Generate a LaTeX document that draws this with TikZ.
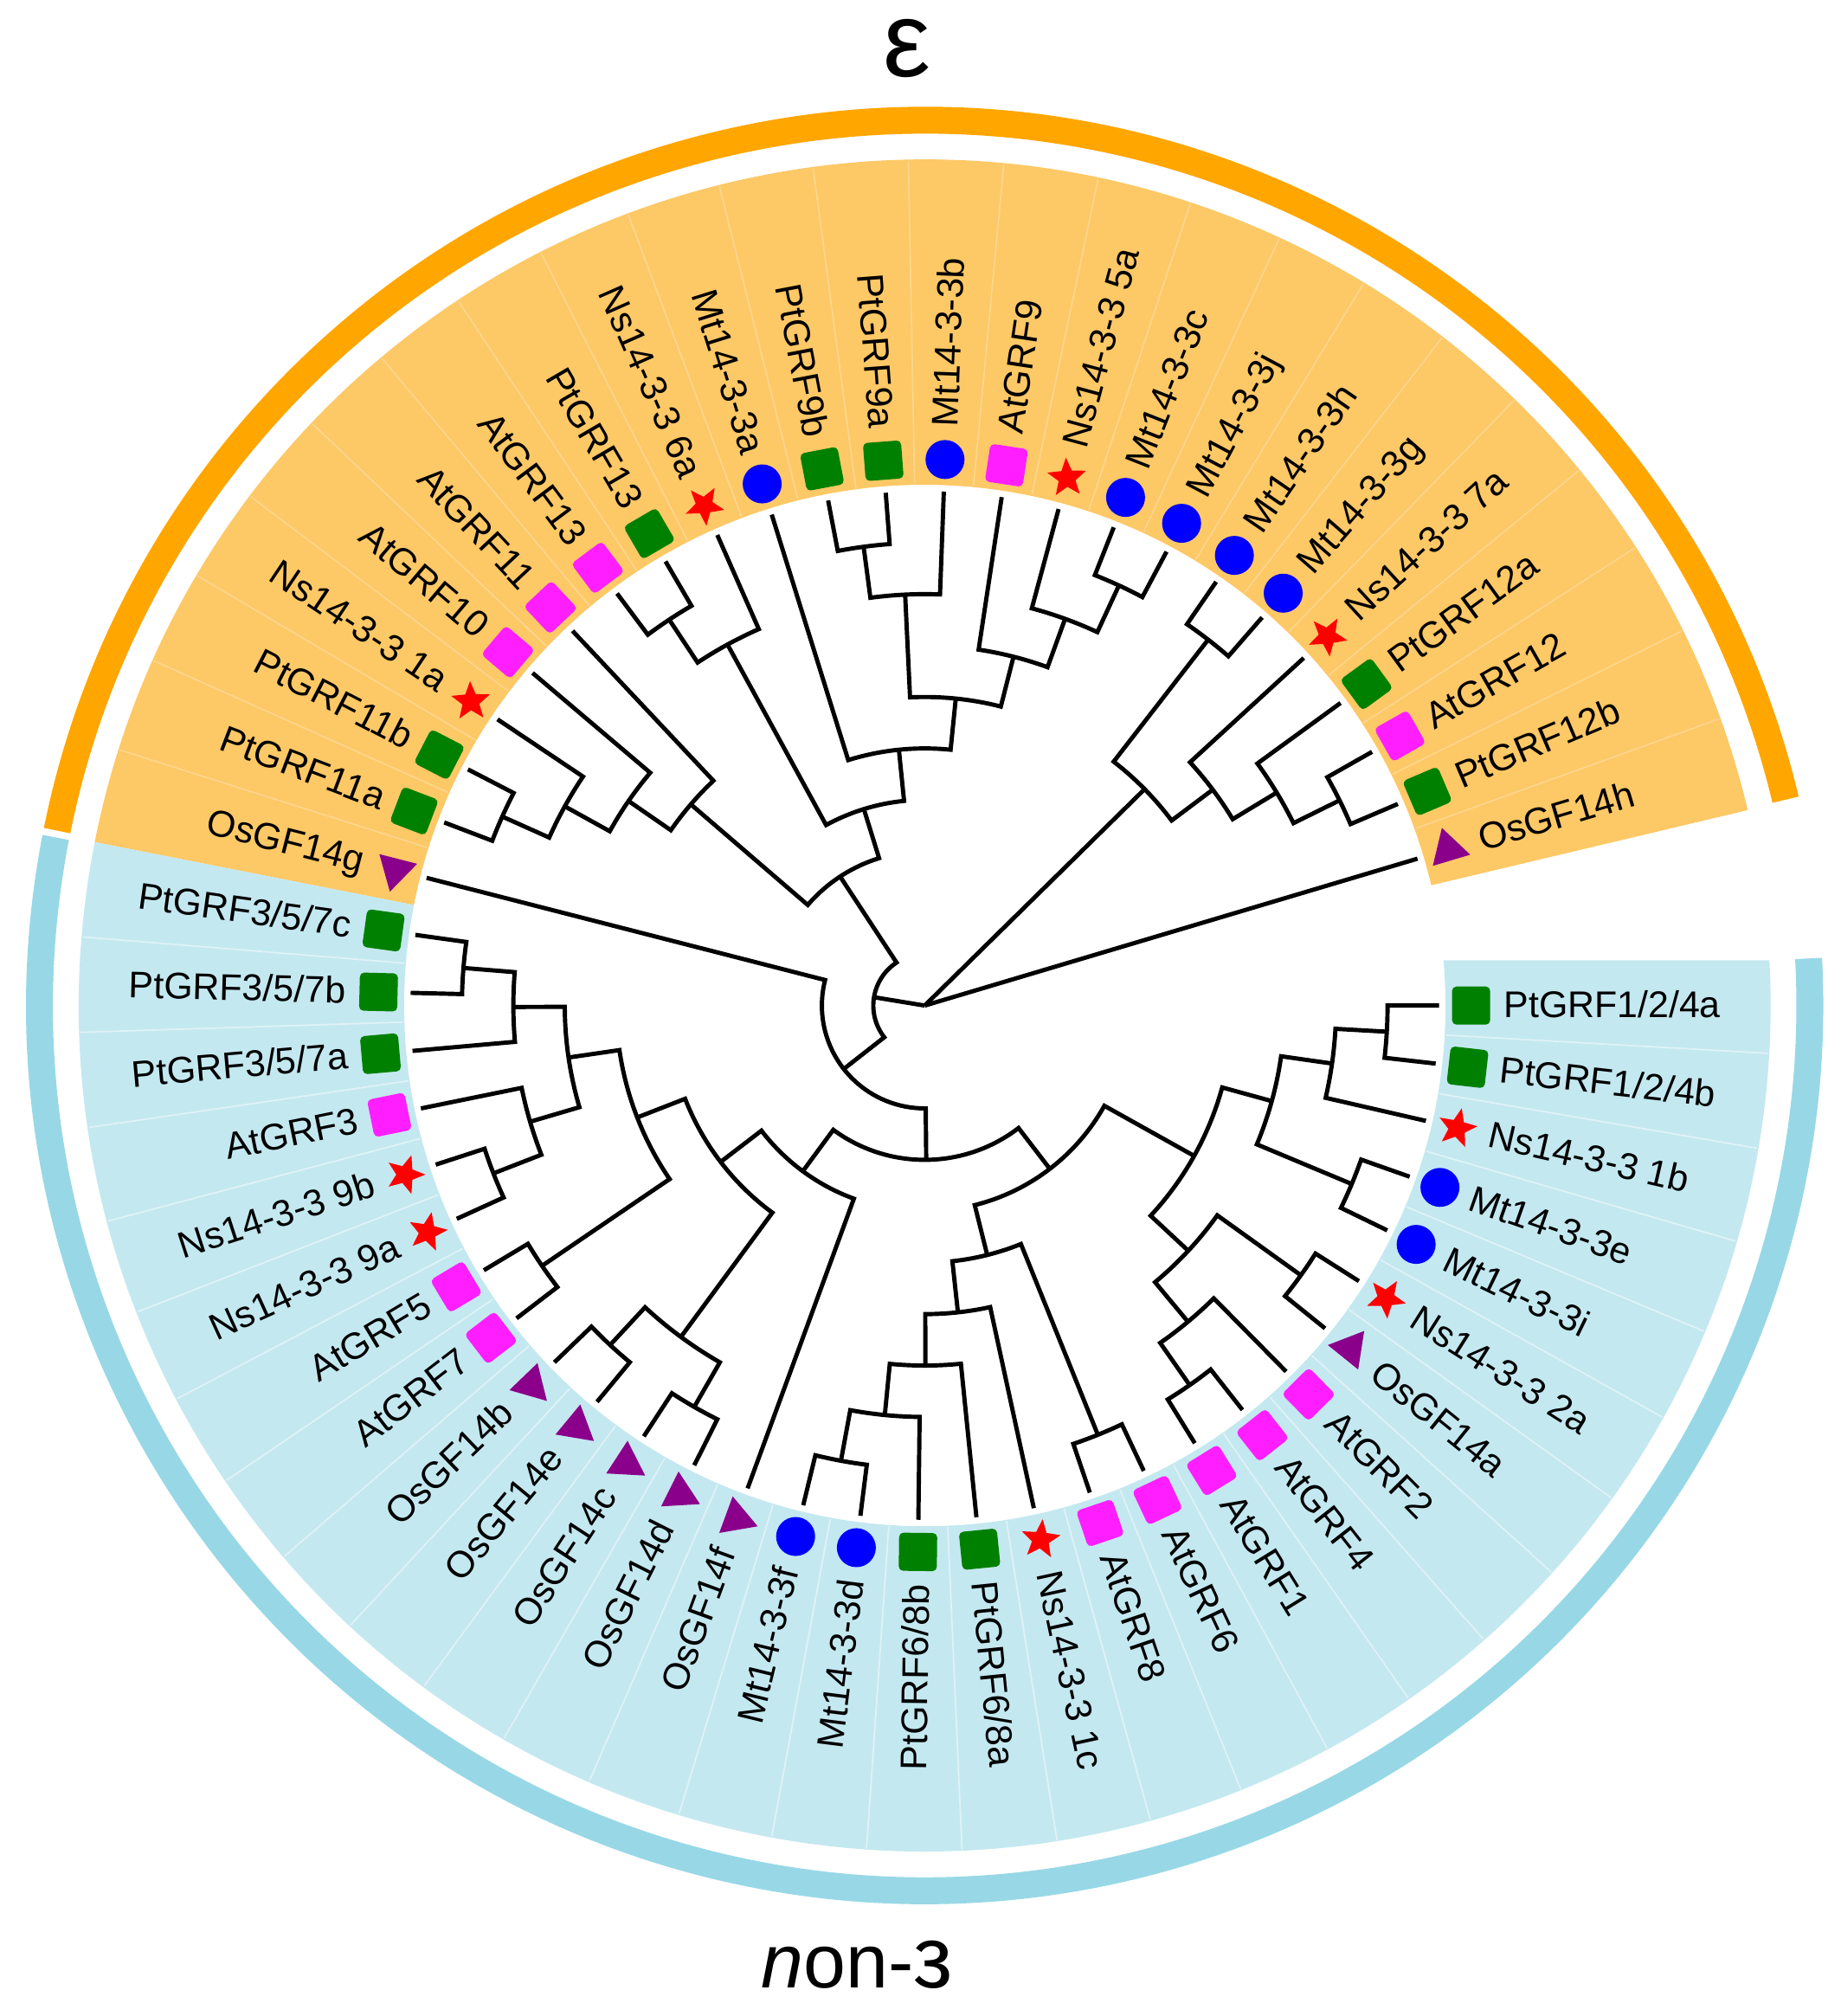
\documentclass[tikz,border=0pt]{standalone}
\usepackage{fontspec}
\usepackage{graphicx}
\setmainfont{Liberation Sans}
\usetikzlibrary{shapes.geometric}
\definecolor{ofill}{RGB}{253,200,102}
\definecolor{oband}{RGB}{255,166,0}
\definecolor{bfill}{RGB}{196,232,240}
\definecolor{bband}{RGB}{152,216,230}
\definecolor{mgreen}{RGB}{0,128,0}
\definecolor{mmag}{RGB}{255,30,255}
\definecolor{mblue}{RGB}{0,0,255}
\definecolor{mred}{RGB}{255,0,0}
\definecolor{mpurple}{RGB}{139,0,139}
% clade: radius, angle child1, angle child2, radius child1, radius child2
\newcommand\clade[5]{\draw[branch] (#2:#4) -- (#2:#1) arc[start angle=#2, end angle=#3, radius=#1] -- (#3:#5);}
\newcommand\mkgsq[2]{\node[sqmark, fill=mgreen, rotate=#1] (m#2) at (#1:425) {};}
\newcommand\mkmsq[2]{\node[sqmark, fill=mmag, rotate=#1] (m#2) at (#1:425) {};}
\newcommand\mkcirc[2]{\node[circmark] (m#2) at (#1:425) {};}
\newcommand\mkstar[2]{\node[starmark, rotate=#1] (m#2) at (#1:425) {};}
\newcommand\mktri[2]{\node[trimark, rotate=#1] (m#2) at (#1:425) {};}
\tikzset{
  branch/.style={line width=1.4pt, black},
  sqmark/.style={rectangle, rounded corners=0.05cm, minimum size=0.44cm, inner sep=0pt, draw=none},
  circmark/.style={circle, fill=mblue, minimum size=0.45cm, inner sep=0pt},
  starmark/.style={star, star points=5, star point ratio=2.3, fill=mred, minimum size=0.47cm, inner sep=0pt},
  trimark/.style={regular polygon, regular polygon sides=3, fill=mpurple, minimum size=0.52cm, inner sep=0pt},
  lab/.style={font=\fontsize{12.2}{14}\selectfont, inner sep=0pt, text height=8.7pt, text depth=1pt},
  oseam/.style={ofill!75!white, line width=0.5pt},
  bseam/.style={bfill!55!white, line width=0.5pt}
}
\begin{document}
\begin{tikzpicture}[x=0.014853cm, y=0.014853cm]
\useasboundingbox (-719.3,-785.9) rectangle (712.7,782.1);
\fill[white] (-719.3,-785.9) rectangle (712.7,782.1);
% background wedges
\fill[ofill] (13.36:405) -- (13.36:658) arc[start angle=13.36, end angle=168.86, radius=658] -- (168.86:405) arc[start angle=168.86, end angle=13.36, radius=405] -- cycle;
\fill[bfill] (168.86:405) -- (168.86:658) arc[start angle=168.86, end angle=363.07, radius=658] -- (403.5,35.3) arc[start angle=5.0, end angle=-191.14, radius=405] -- cycle;
\foreach \k in {0,...,22}{\pgfmathsetmacro\s{16.6+6.4792*\k+3.2396}\draw[oseam] (\s:406) -- (\s:657);}
\foreach \k in {24,...,52}{\pgfmathsetmacro\s{16.6+6.4792*\k+3.2396}\draw[bseam] (\s:406) -- (\s:657);}
% outer bands
\draw[oband, line width=8.84pt] (13.45:688.5) arc[start angle=13.45, end angle=168.6, radius=688.5];
\draw[bband, line width=8.84pt] (169.05:688.5) arc[start angle=169.05, end angle=363.05, radius=688.5];
% root
\coordinate (root) at (0,0);
\draw[branch] (root) -- (16.60:400);
\draw[branch] (root) -- (44.545:240);
\draw[branch] (root) -- (170.67:40);
% epsilon clade
\clade{360}{23.08}{29.56}{400}{400}
\clade{320}{26.32}{36.04}{360}{400}
\clade{280}{31.18}{42.52}{320}{400}
\clade{360}{49.00}{55.48}{400}{400}
\clade{240}{36.85}{52.24}{280}{360}
\clade{360}{61.95}{68.43}{400}{400}
\clade{320}{65.19}{74.91}{360}{400}
\clade{280}{70.05}{81.39}{320}{400}
\clade{360}{94.35}{100.83}{400}{400}
\clade{320}{87.87}{97.59}{400}{360}
\clade{240}{75.72}{92.73}{280}{320}
\clade{200}{84.225}{107.31}{240}{400}
\clade{360}{120.27}{126.75}{400}{400}
\clade{320}{113.79}{123.51}{400}{360}
\clade{160}{95.77}{118.65}{200}{320}
\clade{360}{152.66}{159.14}{400}{400}
\clade{320}{146.18}{155.90}{400}{360}
\clade{280}{139.70}{151.04}{400}{320}
\clade{240}{133.23}{145.37}{400}{280}
\clade{120}{107.21}{139.30}{160}{240}
\clade{40}{123.255}{218.085}{120}{80}
\clade{80}{165.62}{270.55}{400}{120}
% non-epsilon clade
\clade{120}{233.65}{307.455}{160}{160}
\clade{160}{217.455}{249.85}{200}{400}
\clade{200}{201.26}{233.65}{240}{320}
\clade{240}{188.30}{214.22}{280}{360}
\clade{280}{180.20}{196.40}{320}{320}
\clade{320}{175.34}{185.06}{360}{400}
\clade{360}{172.10}{178.58}{400}{400}
\clade{320}{191.54}{201.26}{400}{360}
\clade{360}{198.02}{204.50}{400}{400}
\clade{360}{210.98}{217.46}{400}{400}
\clade{320}{227.17}{240.13}{360}{360}
\clade{360}{223.93}{230.41}{400}{400}
\clade{360}{236.89}{243.37}{400}{400}
\clade{160}{284.07}{330.84}{200}{240}
\clade{200}{276.175}{291.97}{240}{360}
\clade{240}{270.10}{282.25}{280}{400}
\clade{280}{264.43}{275.77}{320}{400}
\clade{320}{259.57}{269.29}{360}{400}
\clade{360}{256.33}{262.81}{400}{400}
\clade{360}{288.73}{295.21}{400}{400}
\clade{240}{317.07}{344.61}{280}{280}
\clade{280}{309.78}{324.36}{320}{360}
\clade{320}{304.92}{314.64}{360}{400}
\clade{360}{301.68}{308.16}{400}{400}
\clade{360}{321.12}{327.60}{400}{400}
\clade{280}{337.32}{351.90}{360}{320}
\clade{360}{334.08}{340.56}{400}{400}
\clade{320}{347.04}{356.76}{400}{360}
\clade{360}{353.52}{360.00}{400}{400}
% leaves: markers and labels
\foreach \k/\txt/\mk in {
 0/OsGF14h/tri, 1/PtGRF12b/gsq, 2/AtGRF12/msq, 3/PtGRF12a/gsq, 4/{Ns14-3-3 7a}/star,
 5/Mt14-3-3g/circ, 6/Mt14-3-3h/circ, 7/Mt14-3-3j/circ, 8/Mt14-3-3c/circ, 9/{Ns14-3-3 5a}/star,
 10/AtGRF9/msq, 11/Mt14-3-3b/circ, 12/PtGRF9a/gsq, 13/PtGRF9b/gsq, 14/Mt14-3-3a/circ,
 15/{Ns14-3-3 6a}/star, 16/PtGRF13/gsq, 17/AtGRF13/msq, 18/AtGRF11/msq, 19/AtGRF10/msq,
 20/{Ns14-3-3 1a}/star, 21/PtGRF11b/gsq, 22/PtGRF11a/gsq, 23/OsGF14g/tri,
 24/{PtGRF3/5/7c}/gsq, 25/{PtGRF3/5/7b}/gsq, 26/{PtGRF3/5/7a}/gsq, 27/AtGRF3/msq,
 28/{Ns14-3-3 9b}/star, 29/{Ns14-3-3 9a}/star, 30/AtGRF5/msq, 31/AtGRF7/msq,
 32/OsGF14b/tri, 33/OsGF14e/tri, 34/OsGF14c/tri, 35/OsGF14d/tri, 36/OsGF14f/tri,
 37/Mt14-3-3f/circ, 38/Mt14-3-3d/circ, 39/{PtGRF6/8b}/gsq, 40/{PtGRF6/8a}/gsq,
 41/{Ns14-3-3 1c}/star, 42/AtGRF8/msq, 43/AtGRF6/msq, 44/AtGRF1/msq, 45/AtGRF4/msq,
 46/AtGRF2/msq, 47/OsGF14a/tri, 48/{Ns14-3-3 2a}/star, 49/Mt14-3-3i/circ, 50/Mt14-3-3e/circ,
 51/{Ns14-3-3 1b}/star, 52/{PtGRF1/2/4b}/gsq, 53/{PtGRF1/2/4a}/gsq}{
  \pgfmathsetmacro\a{16.6+6.4792*\k}
  \csname mk\mk\endcsname{\a}{\k}
  \ifdim\a pt<90pt
    \node[lab, anchor=west, rotate=\a] (l\k) at (\a:450) {\txt};
  \else\ifdim\a pt>270pt
    \node[lab, anchor=west, rotate=\a] (l\k) at (\a:450) {\txt};
  \else
    \pgfmathsetmacro\b{\a+180}
    \node[lab, anchor=east, rotate=\b] (l\k) at (\a:450) {\txt};
  \fi\fi
}
% group labels
\node[font=\fontsize{35}{40}\selectfont, anchor=base, inner sep=0pt, text height=20pt, text depth=0pt] (epslab) at (-13.5,722.6) {ε};
\node[font=\fontsize{25}{30}\selectfont, anchor=base, inner sep=0pt] (nonlab) at (-52.8,-764.2) {{\itshape n}on-\scalebox{-1.15}[1.15]{ε}};
\end{tikzpicture}
\end{document}
